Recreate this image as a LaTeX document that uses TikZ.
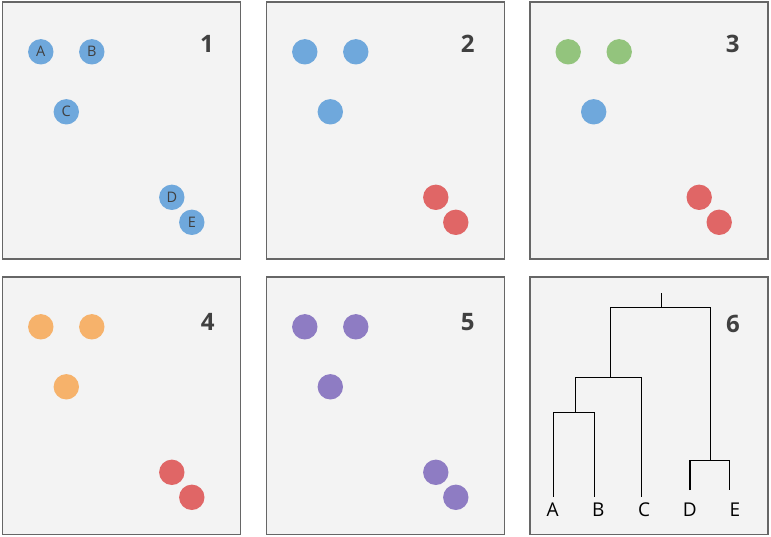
\documentclass[tikz,border=0pt]{standalone}
\usepackage{fontspec}
\setmainfont{Open Sans}
\usetikzlibrary{calc}

\definecolor{ptblue}{HTML}{6FA8DC}
\definecolor{ptred}{HTML}{E06666}
\definecolor{ptgreen}{HTML}{93C47D}
\definecolor{ptorange}{HTML}{F6B26B}
\definecolor{ptpurple}{HTML}{8E7CC3}
\definecolor{panelfill}{HTML}{F3F3F3}
\definecolor{panelline}{HTML}{666666}
\definecolor{numtext}{HTML}{404040}

\tikzset{
  panel/.style={draw=panelline,fill=panelfill,line width=1.6pt},
  pt/.style={circle,minimum size=25.4pt,inner sep=0pt,
    text=numtext,font=\fontsize{14.5}{14.5}\selectfont},
  stepno/.style={text=numtext,font=\fontsize{24}{24}\selectfont\bfseries},
  leaf/.style={font=\fontsize{19}{19}\selectfont},
  tree/.style={line width=1.1pt}
}

\begin{document}
\begin{tikzpicture}[x=1pt,y=-1pt]
  \useasboundingbox (0,0) rectangle (771,537);
  % panel 1: the points
  \begin{scope}[shift={(2.3,2.3)}]
    \draw[panel] (0,0) rectangle +(238,257);
    \node[stepno] (n1) at (204.7,41.5) {1};
    \node[pt,fill=ptblue] (p1a) at (38.5,49.5) {A};
    \node[pt,fill=ptblue] (p1b) at (89.5,49.5) {B};
    \node[pt,fill=ptblue] (p1c) at (64,109.5) {C};
    \node[pt,fill=ptblue] (p1d) at (169.5,195) {D};
    \node[pt,fill=ptblue] (p1e) at (189.5,220) {E};
  \end{scope}
  % panel 2
  \begin{scope}[shift={(266.3,2.3)}]
    \draw[panel] (0,0) rectangle +(238,257);
    \node[stepno] (n2) at (201.4,41.5) {2};
    \node[pt,fill=ptblue] (p2a) at (38.5,49.5) {};
    \node[pt,fill=ptblue] (p2b) at (89.5,49.5) {};
    \node[pt,fill=ptblue] (p2c) at (64,109.5) {};
    \node[pt,fill=ptred] (p2d) at (169.5,195) {};
    \node[pt,fill=ptred] (p2e) at (189.5,220) {};
  \end{scope}
  % panel 3
  \begin{scope}[shift={(529.7,2.3)}]
    \draw[panel] (0,0) rectangle +(238,257);
    \node[stepno] (n3) at (203,41.5) {3};
    \node[pt,fill=ptgreen] (p3a) at (38.5,49.5) {};
    \node[pt,fill=ptgreen] (p3b) at (89.5,49.5) {};
    \node[pt,fill=ptblue] (p3c) at (64,109.5) {};
    \node[pt,fill=ptred] (p3d) at (169.5,195) {};
    \node[pt,fill=ptred] (p3e) at (189.5,220) {};
  \end{scope}
  % panel 4
  \begin{scope}[shift={(2.3,277.3)}]
    \draw[panel] (0,0) rectangle +(238,257);
    \node[stepno] (n4) at (205.4,44.7) {4};
    \node[pt,fill=ptorange] (p4a) at (38.5,49.5) {};
    \node[pt,fill=ptorange] (p4b) at (89.5,49.5) {};
    \node[pt,fill=ptorange] (p4c) at (64,109.5) {};
    \node[pt,fill=ptred] (p4d) at (169.5,195) {};
    \node[pt,fill=ptred] (p4e) at (189.5,220) {};
  \end{scope}
  % panel 5
  \begin{scope}[shift={(266.3,277.3)}]
    \draw[panel] (0,0) rectangle +(238,257);
    \node[stepno] (n5) at (201.4,44.7) {5};
    \node[pt,fill=ptpurple] (p5a) at (38.5,49.5) {};
    \node[pt,fill=ptpurple] (p5b) at (89.5,49.5) {};
    \node[pt,fill=ptpurple] (p5c) at (64,109.5) {};
    \node[pt,fill=ptpurple] (p5d) at (169.5,195) {};
    \node[pt,fill=ptpurple] (p5e) at (189.5,220) {};
  \end{scope}
  % panel 6: the dendrogram
  \draw[panel] (529.7,277.3) rectangle +(238,257);
  \node[stepno] (n6) at (733,323.5) {6};
  \node[leaf] (la) at (552.7,510) {A};
  \node[leaf] (lb) at (598.3,510) {B};
  \node[leaf] (lc) at (644,510) {C};
  \node[leaf] (ld) at (689.7,510) {D};
  \node[leaf] (le) at (735,510) {E};
  \coordinate (ta) at (553.7,496.7);
  \coordinate (tb) at (594.3,496.7);
  \coordinate (tc) at (641.3,496.7);
  \coordinate (td) at (690,490);
  \coordinate (te) at (729.8,490);
  \coordinate (ab) at (575.3,412.3);
  \coordinate (abc) at (610.3,377.3);
  \coordinate (de) at (710.3,460.3);
  \coordinate (root) at (661.7,307.3);
  \coordinate (rtop) at (661.7,292.7);
  \draw[tree] (ta) |- (ab) -| (tb);
  \draw[tree] (ab) |- (abc) -| (tc);
  \draw[tree] (td) |- (de) -| (te);
  \draw[tree] (abc) |- (root) -| (de);
  \draw[tree] (root) -- (rtop);
\end{tikzpicture}
\end{document}
